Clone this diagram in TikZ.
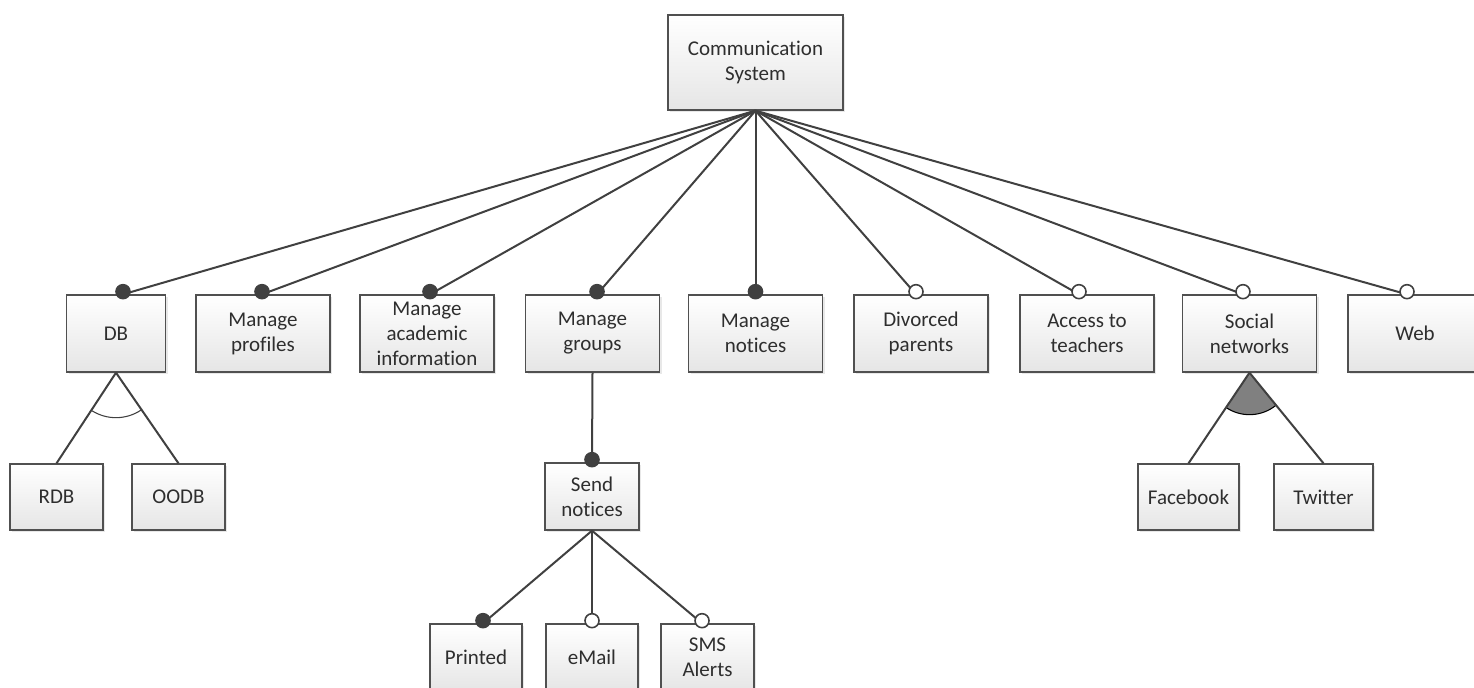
\documentclass[tikz,border=0pt]{standalone}
\usepackage{fontspec}
\setmainfont{Carlito}[Ligatures=NoCommon]
\usetikzlibrary{shadows}
\definecolor{edge}{HTML}{404040}
\definecolor{boxline}{HTML}{505050}
\definecolor{txt}{HTML}{2E2E2E}

\begin{document}
\begin{tikzpicture}
		[x=0.75pt, y=-0.75pt, line width=1.5pt, color=edge,
		main/.style = {draw=boxline, line width=1pt, rectangle, inner sep=0pt, top color=white, bottom color=black!10, drop shadow={opacity=0.18, shadow xshift=1.5pt, shadow yshift=-1.5pt}, minimum width=100.5pt, minimum height=57.75pt, align=center, text=txt, font=\fontsize{15.75}{18.75}\selectfont},
		leaf/.style = {main, minimum width=69.75pt, minimum height=49.5pt},
		mand/.style = {draw=edge, fill=edge, circle, inner sep=0pt, minimum size=10.5pt, line width=1.2pt, yshift=2pt},
		opt/.style = {mand, fill=white}]
	\useasboundingbox (0,0) rectangle (1474,687);
	\clip (0,0) rectangle (1474,687);
	\node[main, minimum width=131.25pt, minimum height=71.25pt] (0) at (755.5,62.5) {Communication\\System};
	\node[main, minimum width=74.25pt] (1) at (116,333.5) {DB};
	\node[main] (2) at (263,333.5) {Manage\\profiles};
	\node[main] (3) at (427,333.5) {Manage\\academic\\information};
	\node[main] (4) at (592.5,333.5) {Manage\\groups};
	\node[main] (5) at (755.5,333.5) {Manage\\notices};
	\node[main] (6) at (921,333.5) {Divorced\\parents};
	\node[main] (7) at (1087,333.5) {Access to\\teachers};
	\node[main] (8) at (1249.5,333.5) {Social\\networks};
	\node[main] (9) at (1415,333.5) {Web};
	\node[leaf] (10) at (56.5,497) {RDB};
	\node[leaf] (11) at (178.5,497) {OODB};
	\node[leaf, minimum width=70.5pt, minimum height=50.25pt] (12) at (592,496.5) {Send\\notices};
	\node[leaf, minimum width=75.75pt] (13) at (1188.5,497) {Facebook};
	\node[leaf, minimum width=74.25pt] (14) at (1323.5,497) {Twitter};
	\node[leaf, minimum width=69pt, minimum height=50.25pt] (15) at (476,657.5) {Printed};
	\node[leaf, minimum width=69pt, minimum height=50.25pt] (16) at (592,657.5) {eMail};
	\node[leaf, minimum height=50.25pt] (17) at (707.5,657.5) {SMS\\Alerts};
	% group marks
	\fill[gray] (8.south) -- ++(236.2:31.5pt) arc[start angle=236.2, end angle=308.6, radius=31.5pt] -- cycle;
	\draw[line width=0.8pt, black] (8.south) ++(236.2:31.5pt) arc[start angle=236.2, end angle=308.6, radius=31.5pt];
	\draw[line width=0.8pt] (1.south) ++(237.8:33.75pt) arc[start angle=237.8, end angle=304, radius=33.75pt];
	\draw (0.south) -- ([xshift=5.25pt]1.north) node[mand] {};
	\draw (0.south) -- ([xshift=-0.75pt]2.north) node[mand] {};
	\draw (0.south) -- ([xshift=2.25pt]3.north) node[mand] {};
	\draw (0.south) -- ([xshift=3.4pt]4.north) node[mand] {};
	\draw (0.south) -- (5.north) node[mand] {};
	\draw (0.south) -- ([xshift=-3.75pt]6.north) node[opt] {};
	\draw (0.south) -- ([xshift=-6pt]7.north) node[opt] {};
	\draw (0.south) -- ([xshift=-4.9pt]8.north) node[opt] {};
	\draw (0.south) -- ([xshift=-6pt]9.north) node[opt] {};
	\draw (1.south) -- (10.north);
	\draw (1.south) -- (11.north);
	\draw (4.south) -- (12.north) node[mand] {};
	\draw (12.south) -- ([xshift=5.25pt]15.north) node[mand] {};
	\draw (12.south) -- (16.north) node[opt] {};
	\draw (12.south) -- ([xshift=-4.1pt]17.north) node[opt] {};
	\draw (8.south) -- (13.north);
	\draw (8.south) -- (14.north);
	\end{tikzpicture}
\end{document}
